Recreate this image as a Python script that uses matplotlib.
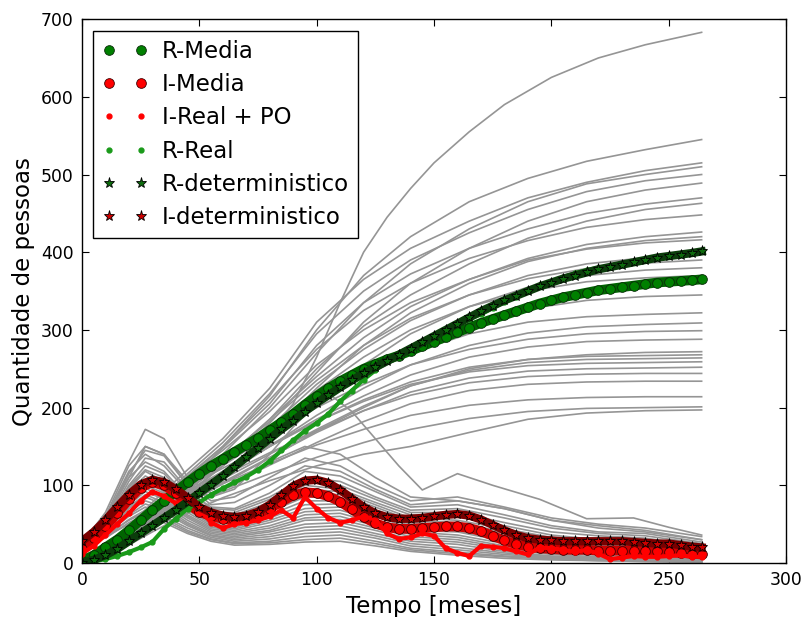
#Epidemic simulation: stochastic runs, mean, real data and deterministic model

#import libraries
import numpy as np
import matplotlib
matplotlib.use('Agg')
import matplotlib.pyplot as plt

#time axis of the summary curves (months)
t_main = list(range(0, 261, 5)) + [264]

#R-Media (mean of recovered)
r_media = [3, 10, 20, 30, 42, 55, 68, 80, 92, 104, 115, 125, 134, 143, 152, 161, 171, 181,
           192, 204, 215, 225, 234, 242, 250, 256, 262, 267, 273, 279, 285, 291, 297, 303,
           309, 314, 319, 324, 329, 334, 338, 342, 345, 348, 351, 353, 355, 357, 359, 361,
           362, 363, 364, 365]
#I-Media (mean of infected)
i_media = [18, 32, 47, 64, 82, 97, 104, 100, 90, 76, 66, 60, 57, 56, 59, 63, 70, 79,
           87, 91, 90, 86, 79, 69, 59, 51, 46, 44, 44, 45, 46, 47, 47, 45, 41, 35,
           29, 24, 21, 19, 18, 17, 17, 17, 16, 16, 16, 16, 15, 15, 14, 13, 12, 11]
#I-Real + PO
i_real = [12, 22, 36, 50, 64, 80, 92, 86, 77, 80, 70, 52, 45, 50, 52, 55, 60, 68,
          58, 85, 70, 58, 52, 55, 60, 56, 38, 31, 33, 38, 35, 19, 13, 9, 22, 21,
          19, 15, 11, 20, 19, 17, 14, 17, 12, 5, 7, 9, 8, 8, 9, 10, 8, 8]
#R-Real (observed recovered, shorter series)
t_rreal = list(range(0, 221, 5))
r_real = [0, 2, 5, 9, 14, 20, 27, 44, 57, 70, 78, 88, 96, 104, 111, 120, 131, 145,
          158, 170, 180, 192, 208, 222, 236, 248, 260, 270, 278, 285, 292, 300, 308,
          314, 320, 328, 336, 343, 350, 358, 362, 368, 373, 377, 380]
#R-deterministico
r_det = [0, 4, 10, 18, 28, 38, 48, 58, 68, 79, 90, 101, 112, 124, 136, 148, 160, 172,
         183, 195, 206, 216, 226, 235, 244, 252, 260, 268, 276, 284, 292, 300, 308, 316,
         324, 331, 338, 344, 350, 356, 361, 366, 370, 374, 378, 381, 384, 387, 390, 393,
         395, 397, 399, 401]
#I-deterministico
i_det = [28, 40, 55, 72, 88, 101, 107, 104, 95, 84, 72, 65, 61, 59, 61, 66, 75, 87,
         99, 106, 107, 103, 94, 83, 72, 64, 59, 57, 57, 58, 60, 62, 63, 61, 56, 49,
         42, 36, 32, 30, 29, 28, 28, 28, 28, 28, 28, 27, 26, 25, 25, 23, 21, 20]

#the run with the big second wave (own time grid)
t_top_r = [0, 15, 30, 45, 60, 75, 90, 100, 110, 120, 130, 140, 150, 165, 180, 200, 220, 240, 264]
r_top = [0, 20, 55, 85, 112, 150, 205, 265, 335, 400, 445, 482, 515, 555, 590, 625, 650, 667, 683]
t_top_i = [0, 10, 20, 27, 35, 45, 55, 65, 80, 90, 100, 106, 115, 125, 135, 145, 160, 175, 195,
           215, 235, 250, 264]
i_top = [25, 60, 110, 150, 140, 100, 85, 95, 140, 175, 205, 216, 195, 160, 125, 94, 115, 100,
         82, 57, 58, 46, 36]

#other stochastic runs (gray), recovered
t_runs_r = [0, 15, 30, 45, 60, 80, 100, 120, 140, 165, 190, 215, 240, 264]
runs_r = [
    [0, 25, 70, 110, 150, 215, 300, 370, 420, 465, 495, 517, 532, 545],
    [0, 30, 78, 120, 160, 225, 310, 365, 405, 440, 470, 490, 505, 515],
    [0, 22, 60, 100, 140, 200, 270, 335, 385, 430, 465, 488, 500, 510],
    [0, 28, 72, 115, 155, 218, 295, 350, 390, 425, 455, 478, 492, 500],
    [0, 18, 50, 88, 125, 180, 245, 310, 360, 405, 440, 465, 480, 489],
    [0, 24, 65, 105, 148, 205, 280, 335, 372, 405, 430, 450, 462, 470],
    [0, 20, 55, 92, 130, 185, 250, 305, 345, 385, 418, 440, 455, 463],
    [0, 26, 70, 112, 150, 210, 275, 325, 360, 392, 415, 432, 442, 448],
    [0, 22, 58, 95, 132, 185, 240, 290, 330, 365, 392, 410, 420, 426],
    [0, 15, 45, 80, 115, 165, 225, 280, 322, 360, 388, 405, 415, 420],
    [0, 27, 72, 110, 145, 195, 255, 300, 335, 365, 390, 404, 412, 416],
    [0, 20, 55, 90, 125, 175, 230, 275, 312, 345, 370, 385, 393, 398],
    [0, 25, 65, 100, 135, 182, 235, 280, 315, 345, 366, 379, 386, 390],
    [0, 18, 48, 82, 115, 160, 210, 255, 295, 330, 355, 370, 377, 380],
    [0, 22, 60, 95, 128, 172, 222, 265, 300, 330, 350, 362, 367, 370],
    [0, 20, 55, 88, 118, 160, 205, 245, 278, 308, 327, 338, 343, 345],
    [0, 24, 62, 96, 125, 165, 205, 240, 270, 295, 310, 317, 320, 322],
    [0, 19, 52, 84, 112, 150, 190, 225, 255, 280, 296, 304, 307, 309],
    [0, 26, 68, 102, 130, 165, 200, 230, 255, 275, 288, 295, 298, 299],
    [0, 21, 56, 88, 115, 150, 185, 215, 242, 265, 278, 285, 287, 288],
    [0, 17, 46, 76, 102, 135, 170, 200, 228, 250, 262, 268, 271, 272],
    [0, 23, 60, 92, 118, 150, 182, 210, 233, 252, 262, 266, 267, 268],
    [0, 20, 52, 82, 108, 140, 172, 202, 228, 248, 258, 262, 263, 264],
    [0, 25, 66, 98, 122, 152, 182, 208, 230, 246, 254, 257, 258, 259],
    [0, 18, 48, 78, 104, 136, 168, 196, 220, 238, 247, 250, 251, 252],
    [0, 22, 57, 88, 112, 142, 170, 196, 216, 232, 240, 243, 244, 244],
    [0, 16, 44, 72, 96, 126, 155, 182, 205, 222, 230, 233, 234, 234],
    [0, 20, 52, 80, 102, 128, 152, 172, 190, 203, 210, 213, 214, 214],
    [0, 18, 46, 72, 92, 115, 136, 155, 172, 186, 195, 199, 200, 201],
    [0, 15, 40, 64, 84, 106, 125, 140, 150, 168, 185, 193, 196, 197],
]

#other stochastic runs (gray), infected
t_runs_i = [0, 10, 20, 27, 35, 45, 55, 65, 80, 95, 110, 125, 140, 160, 180, 200, 220, 240, 264]
runs_i = [
    [25, 65, 130, 172, 160, 110, 90, 100, 130, 150, 140, 110, 85, 80, 70, 55, 45, 40, 30],
    [25, 60, 125, 150, 140, 105, 80, 85, 110, 135, 125, 100, 80, 85, 72, 58, 50, 45, 34],
    [25, 55, 115, 145, 138, 100, 75, 78, 100, 125, 118, 95, 75, 80, 70, 55, 48, 42, 30],
    [25, 58, 118, 140, 125, 92, 72, 70, 90, 118, 112, 92, 72, 75, 62, 48, 40, 38, 27],
    [25, 50, 105, 135, 130, 95, 70, 68, 85, 110, 105, 85, 68, 70, 58, 45, 38, 35, 25],
    [25, 52, 110, 130, 118, 85, 65, 65, 82, 105, 100, 82, 65, 65, 52, 40, 35, 32, 22],
    [25, 48, 100, 125, 115, 82, 62, 62, 78, 100, 95, 78, 62, 60, 48, 36, 30, 28, 20],
    [25, 50, 98, 120, 110, 80, 60, 58, 72, 95, 92, 75, 58, 55, 44, 33, 28, 25, 18],
    [25, 45, 95, 118, 105, 75, 57, 55, 70, 90, 88, 72, 55, 52, 40, 30, 26, 23, 16],
    [25, 47, 92, 112, 100, 72, 55, 52, 66, 85, 84, 68, 52, 50, 38, 28, 24, 21, 15],
    [25, 44, 88, 108, 96, 70, 52, 50, 62, 80, 80, 65, 50, 47, 35, 26, 22, 20, 13],
    [25, 42, 85, 105, 92, 68, 50, 46, 58, 75, 76, 62, 48, 45, 33, 24, 20, 18, 12],
    [25, 40, 80, 100, 90, 65, 48, 44, 55, 70, 72, 60, 45, 42, 30, 22, 18, 16, 10],
    [25, 42, 78, 96, 86, 62, 46, 42, 52, 66, 68, 56, 42, 40, 28, 20, 16, 14, 9],
    [25, 38, 75, 92, 82, 60, 44, 40, 48, 62, 64, 52, 40, 36, 25, 17, 14, 12, 8],
    [25, 40, 72, 88, 78, 58, 42, 38, 45, 58, 60, 48, 37, 33, 22, 15, 12, 10, 6],
    [25, 36, 70, 85, 75, 55, 40, 36, 42, 55, 56, 45, 34, 30, 20, 13, 10, 8, 5],
    [25, 38, 66, 80, 72, 52, 38, 34, 40, 50, 52, 42, 31, 27, 18, 11, 8, 7, 4],
    [25, 35, 62, 76, 68, 50, 36, 32, 37, 46, 48, 38, 28, 24, 15, 9, 7, 5, 3],
    [25, 37, 60, 72, 65, 48, 35, 30, 34, 42, 44, 35, 25, 20, 13, 8, 6, 4, 2],
    [25, 33, 56, 68, 60, 45, 33, 28, 31, 38, 40, 32, 22, 17, 11, 7, 5, 3, 2],
    [25, 35, 55, 65, 58, 42, 31, 26, 28, 34, 36, 28, 19, 14, 9, 6, 4, 3, 1],
    [25, 32, 52, 62, 55, 40, 30, 25, 26, 30, 32, 25, 17, 12, 8, 5, 3, 2, 1],
    [25, 34, 50, 60, 52, 38, 28, 23, 24, 27, 28, 22, 15, 10, 6, 4, 3, 2, 1],
]

fig = plt.figure(figsize=(8.03, 6.17), dpi=100)
ax = fig.add_axes([0.102, 0.0875, 0.877, 0.8815])

#gray stochastic runs
gray = '#959595'
ax.plot(t_top_r, r_top, color=gray, lw=1.2)
ax.plot(t_top_i, i_top, color=gray, lw=1.2)
for run in runs_r:
    ax.plot(t_runs_r, run, color=gray, lw=1.2)
for run in runs_i:
    ax.plot(t_runs_i, run, color=gray, lw=1.2)

#thick bands under the markers so the curves look continuous
ax.plot(t_main, r_media, color='#006400', lw=7, solid_capstyle='round')
ax.plot(t_main, i_media, color='#cc0000', lw=7, solid_capstyle='round')

ax.plot(t_main, r_media, 'o', color='green', mec='#0a2a0a', mew=0.6, ms=7, label='R-Media')
ax.plot(t_main, i_media, 'o', color='red', mec='#400000', mew=0.6, ms=7, label='I-Media')

ax.plot(t_main, i_real, '-', color='red', lw=3)
ax.plot(t_main, i_real, '.', color='red', mec='red', ms=7, label='I-Real + PO')
ax.plot(t_rreal, r_real, '-', color='#1a9a1a', lw=3)
ax.plot(t_rreal, r_real, '.', color='#1a9a1a', mec='#1a9a1a', ms=7, label='R-Real')

ax.plot(t_main, r_det, color='#0b3d0b', lw=6)
ax.plot(t_main, r_det, '*', color='#0d6b0d', mec='black', mew=0.6, ms=8, label='R-deterministico')
ax.plot(t_main, i_det, color='#7a0000', lw=6)
ax.plot(t_main, i_det, '*', color='#cc0000', mec='black', mew=0.6, ms=8, label='I-deterministico')

ax.set_xlim(0, 300)
ax.set_ylim(0, 700)
ax.set_xticks([0, 50, 100, 150, 200, 250, 300])
ax.set_yticks([0, 100, 200, 300, 400, 500, 600, 700])
ax.tick_params(direction='in', top=True, right=True, length=5, labelsize=12.4, pad=6)
for s in ax.spines.values():
    s.set_linewidth(1.0)

ax.set_xlabel('Tempo [meses]', fontsize=16.5)
ax.set_ylabel('Quantidade de pessoas', fontsize=16.5)

leg = ax.legend(loc='upper left', numpoints=2, fontsize=16.5, fancybox=False, framealpha=1,
                edgecolor='black', borderaxespad=0.5, handlelength=2.0, handletextpad=0.6,
                labelspacing=0.45, borderpad=0.4)
leg.get_frame().set_linewidth(1.0)

fig.savefig('out.png', dpi=100)
